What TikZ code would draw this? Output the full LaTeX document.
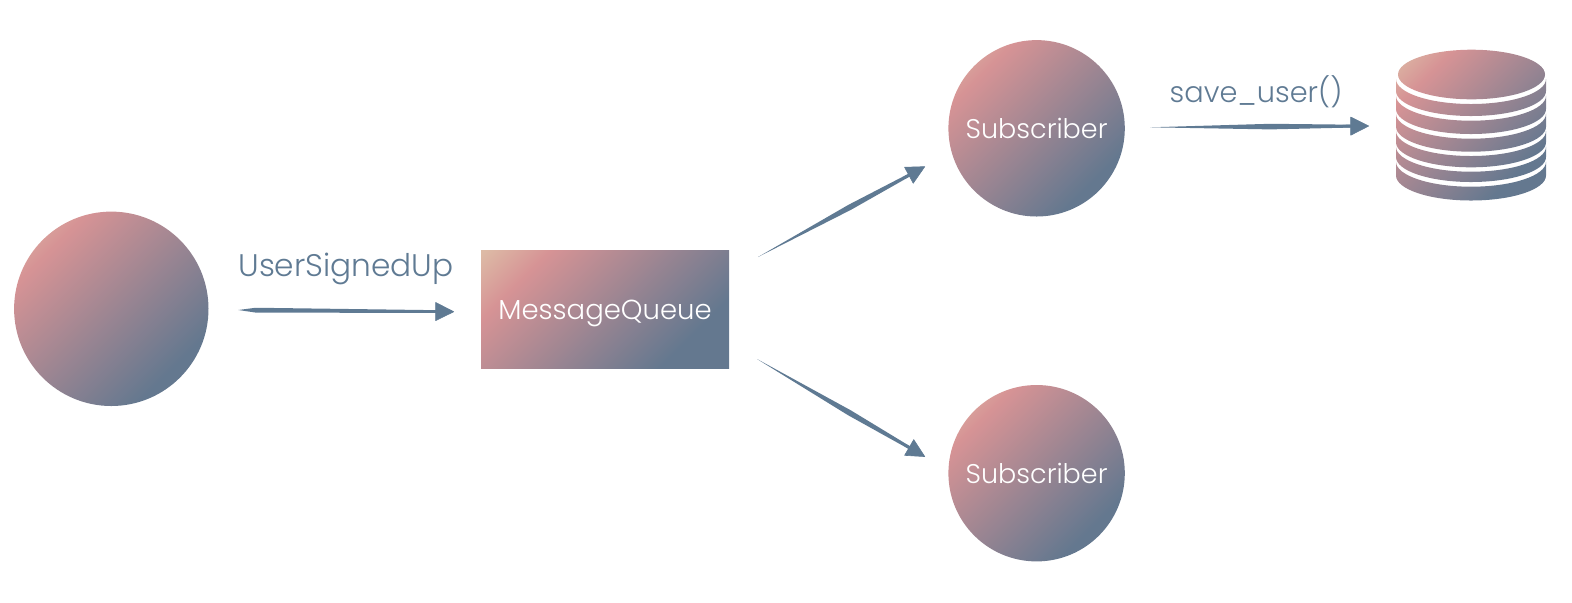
\documentclass[tikz,border=0pt]{standalone}
\usepackage{fontspec}
\setmainfont{Poppins Light}
\usetikzlibrary{arrows.meta,calc}
\definecolor{ink}{HTML}{5F7A93}
\definecolor{gsand}{HTML}{DDBBA6}
\definecolor{gpink}{HTML}{D69395}
\definecolor{gblue}{HTML}{64788F}
\pgfdeclarehorizontalshading{sunset}{100bp}{color(0bp)=(gsand); color(15bp)=(gsand); color(28bp)=(gpink); color(72bp)=(gblue); color(100bp)=(gblue)}
\tikzset{
  grad/.style={shading=sunset,shading angle=-45},
  orb/.style={circle,inner sep=0pt,grad,text=white},
  lab/.style={text=ink,inner sep=0pt,anchor=base},
  conn/.style={draw=ink,line width=1.4pt,-{Triangle[length=9.5pt,width=9.5pt,fill=ink,round,line width=0.3pt]}},
  taper/.style={fill=ink,draw=none}
}
% pointed end #1, widest point #2 (half width #3), head end #4 (half width 0.7pt)
\newcommand{\brush}[4]{%
  \fill[taper] (#1) -- ($(#2)!#3!90:(#1)$) -- ($(#4)!0.7pt!90:(#1)$) -- ($(#4)!0.7pt!-90:(#1)$) -- ($(#2)!#3!-90:(#1)$) -- cycle;}
\newcommand{\slice}[2]{%
  (1396,#1) arc[start angle=180,end angle=0,x radius=75,y radius=25] -- (1546,#2) arc[start angle=0,end angle=180,x radius=75,y radius=25] -- cycle}
\begin{document}
\begin{tikzpicture}[x=0.5pt,y=-0.5pt]
\useasboundingbox (0,0) rectangle (1572,602);
\node[orb,minimum size=97.2pt] (src) at (111.3,308.8) {};
\node[orb,minimum size=88.2pt,font=\fontsize{13.5}{16}\selectfont] (subA) at (1036.6,128.3) {Subscriber};
\node[orb,minimum size=88.2pt,font=\fontsize{13.5}{16}\selectfont] (subB) at (1036.6,473.2) {Subscriber};
\node[grad,minimum width=124pt,minimum height=59pt,inner sep=0pt,text=white,font=\fontsize{13.75}{16}\selectfont] (mq) at (605,309) {\smash{\raisebox{-5pt}{MessageQueue}}};
\node[lab,font=\fontsize{15.6}{18}\selectfont] (evt) at (346,276) {UserSignedUp};
\node[lab,font=\fontsize{14.4}{16}\selectfont] (save) at (1256,102.5) {save\_user()};
% database
\path[grad]
  (1398,74.5) arc[start angle=180,end angle=540,x radius=73.5,y radius=24.8]
  \slice{79}{91}
  \slice{95.7}{109}
  \slice{113.7}{126.7}
  \slice{131}{142.3}
  \slice{146.7}{157}
  \slice{161.7}{175.5};
\coordinate (dbin) at (1369,126);
\coordinate (a1s) at (238.3,310); \coordinate (a1e) at (454,311.7);
\coordinate (a2s) at (758,257);   \coordinate (a2e) at (925,166.5);
\coordinate (a3s) at (757,359);   \coordinate (a3e) at (925,456.7);
\coordinate (a4s) at (1150,127.3);
% connectors
\brush{a1s}{$(a1s)!.08!(a1e)$}{1.2pt}{$(a1s)!.92!(a1e)$}
\draw[conn,line width=1pt] ($(a1s)!.85!(a1e)$) -- (a1e);
\brush{a2s}{$(a2s)!.55!(a2e)$}{1.4pt}{$(a2s)!.93!(a2e)$}
\draw[conn] ($(a2s)!.88!(a2e)$) -- (a2e);
\brush{a3s}{$(a3s)!.55!(a3e)$}{1.4pt}{$(a3s)!.93!(a3e)$}
\draw[conn] ($(a3s)!.88!(a3e)$) -- (a3e);
\brush{a4s}{$(a4s)!.55!(dbin)$}{1.4pt}{$(a4s)!.93!(dbin)$}
\draw[conn] ($(a4s)!.88!(dbin)$) -- (dbin);
\end{tikzpicture}
\end{document}
